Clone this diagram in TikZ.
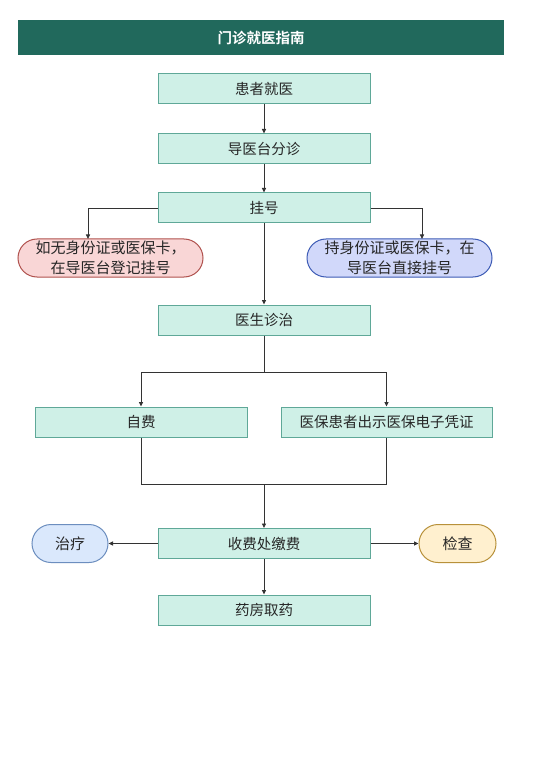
\documentclass[tikz,border=0pt]{standalone}
\usepackage{fontspec}
\setmainfont{Noto Sans CJK SC}
\newfontfamily\cjkbold{Noto Sans CJK SC Bold}
\usetikzlibrary{arrows.meta}
\definecolor{hdr}{HTML}{21695C}
\definecolor{mintfill}{HTML}{CFF0E7}
\definecolor{mintdraw}{HTML}{5FA898}
\definecolor{pinkfill}{HTML}{F9D6D6}
\definecolor{pinkdraw}{HTML}{B0524E}
\definecolor{bluefill}{HTML}{D1D8FA}
\definecolor{bluedraw}{HTML}{3D5BB5}
\definecolor{lbfill}{HTML}{DAE8FC}
\definecolor{lbdraw}{HTML}{6C8EBF}
\definecolor{yfill}{HTML}{FFF0CF}
\definecolor{ydraw}{HTML}{B8913A}
\definecolor{lnc}{HTML}{333333}
\begin{document}
\begin{tikzpicture}[x=1pt,y=-1pt,
  box/.style={draw=mintdraw,fill=mintfill,line width=1pt,minimum width=212pt,minimum height=30pt,inner sep=0pt,font=\fontsize{14.5}{16}\selectfont,text=black!85},
  pill/.style={rounded corners=19pt,line width=1pt,minimum height=38pt,inner sep=0pt,align=center,font=\fontsize{15}{20}\selectfont,text=black!85},
  conn/.style={draw=lnc,line width=0.9pt,-{Triangle[length=4.5pt,width=4pt]}},
  plain/.style={draw=lnc,line width=0.9pt}]
\useasboundingbox (0,0) rectangle (554,783);
\fill[white] (0,0) rectangle (554,783);
\node[fill=hdr,minimum width=486pt,minimum height=35pt,inner sep=0pt,text=white,font=\cjkbold\fontsize{14.5}{16}\selectfont] (title) at (261,37.5) {门诊就医指南};
\node[box] (a) at (264,89) {患者就医};
\node[box] (b) at (264,149) {导医台分诊};
\node[box] (c) at (264,208) {挂号};
\node[pill,draw=pinkdraw,fill=pinkfill,minimum width=185pt] (p) at (110.5,258) {如无身份证或医保卡，\\在导医台登记挂号};
\node[pill,draw=bluedraw,fill=bluefill,minimum width=185pt] (q) at (399.5,258) {持身份证或医保卡，在\\导医台直接挂号};
\node[box] (d) at (264,320) {医生诊治};
\node[box] (e) at (141,422) {自费};
\node[box,minimum width=211pt] (f) at (386.5,422) {医保患者出示医保电子凭证};
\node[box] (g) at (264,543.5) {收费处缴费};
\node[pill,draw=lbdraw,fill=lbfill,minimum width=76pt] (t) at (70,543.5) {治疗};
\node[pill,draw=ydraw,fill=yfill,minimum width=77pt] (k) at (457.5,543.5) {检查};
\node[box] (h) at (264,610) {药房取药};
\coordinate (pin) at (88,239);
\coordinate (qin) at (422,239);
\coordinate (split) at (264,372);
\coordinate (merge) at (264,484);
\draw[conn] (a) -- (b);
\draw[conn] (b) -- (c);
\draw[conn] (c.west) -| (pin);
\draw[conn] (c.east) -| (qin);
\draw[conn] (c) -- (d);
\draw[plain] (d) -- (split);
\draw[conn] (split) -| (e.north);
\draw[conn] (split) -| (f.north);
\draw[plain] (e.south) |- (merge);
\draw[plain] (f.south) |- (merge);
\draw[conn] (merge) -- (g);
\draw[conn] (g) -- (t);
\draw[conn] (g) -- (k);
\draw[conn] (g) -- (h);
\end{tikzpicture}
\end{document}
